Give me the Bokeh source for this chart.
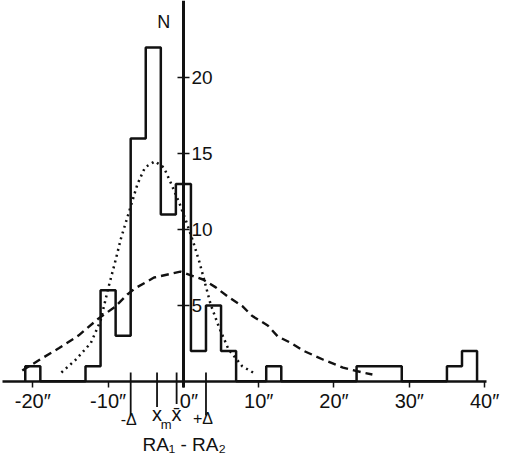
from bokeh.plotting import figure
from bokeh.models import LinearAxis, FixedTicker, Range1d
from bokeh.core.properties import value
from bokeh.embed import file_html
from bokeh.resources import INLINE

# ---------------- data ----------------
# histogram of RA1 - RA2 in 2" bins (left edges)
bin_left = list(range(-21, 39, 2))
counts = [1, 0, 0, 0, 1, 6, 3, 16, 22, 11, 13, 2, 5, 2, 0, 0, 1,
          0, 0, 0, 0, 0, 1, 1, 1, 0, 0, 0, 1, 2]
bin_width = 2

# dotted gaussian
dotted_x = [-16.2, -14.3, -12.3, -11.0, -10.0, -9.1, -8.3, -7.2, -6.1, -5.1, -3.8,
            -2.6, -1.6, -0.5, 0.4, 1.3, 2.1, 2.7, 3.6, 4.7, 6.0, 7.8, 9.7]
dotted_y = [0.58, 1.42, 2.52, 4.0, 6.1, 7.8, 9.4, 11.2, 13.0, 14.1, 14.5,
            14.1, 13.0, 11.7, 10.5, 9.2, 7.9, 6.8, 5.1, 3.6, 2.1, 1.0, 0.45]

# dashed gaussian
dashed_x = [-21.4, -19.1, -16.5, -13.9, -11.3, -9.1, -7.4, -6.4, -3.9, -0.4, 2.6,
            4.3, 6.0, 7.8, 9.1, 11.2, 12.5, 14.3, 16.0, 18.6, 21.2, 23.8, 25.1]
dashed_y = [0.71, 1.42, 2.19, 3.03, 4.13, 4.90, 5.74, 6.13, 6.84, 7.23, 6.71,
            6.19, 5.55, 4.97, 4.32, 3.68, 2.97, 2.52, 2.00, 1.42, 0.90, 0.58, 0.45]

# marker positions below the axis: -Delta, x_m, x-bar, +Delta
mark_x = [-7.0, -3.5, -0.9, 3.0]
mark_bottom = [-2.25, -1.7, -1.5, -2.25]

x_ticks = [-20, -10, 0, 10, 20, 30, 40]
x_tick_labels = ['-20″', '-10″', '\u00a0\u00a00″', '10″', '20″', '30″', '40″']
y_ticks = [5, 10, 15, 20]

INK = "#111111"
FONT = "Liberation Sans"

# ---------------- figure ----------------
p = figure(width=506, height=454,
           x_range=Range1d(-24.29, 42.91), y_range=Range1d(-4.825, 25.10),
           x_axis_location=None, y_axis_location=None,
           toolbar_location=None, output_backend="svg", min_border=0)
p.outline_line_color = None
p.background_fill_color = "white"
p.border_fill_color = "white"
p.grid.visible = False

# axes
xaxis = LinearAxis(fixed_location=0, ticker=FixedTicker(ticks=x_ticks))
xaxis.bounds = (-24.0, 40.25)
xaxis.major_label_overrides = {t: lab for t, lab in zip(x_ticks, x_tick_labels)}
xaxis.major_tick_in = 0
xaxis.major_tick_out = 6
xaxis.minor_tick_line_color = None
xaxis.axis_line_width = 2.5
xaxis.axis_line_color = INK
xaxis.major_tick_line_color = INK
xaxis.major_tick_line_width = 1.5
xaxis.major_label_standoff = 3
xaxis.major_label_text_font = FONT
xaxis.major_label_text_font_size = "20px"
xaxis.major_label_text_color = INK
p.add_layout(xaxis, "below")

yaxis = LinearAxis(fixed_location=0, ticker=FixedTicker(ticks=y_ticks))
yaxis.bounds = (-0.4, 25.1)
yaxis.major_tick_in = 6
yaxis.major_tick_out = 6
yaxis.minor_tick_line_color = None
yaxis.axis_line_width = 3
yaxis.axis_line_color = INK
yaxis.major_tick_line_color = INK
yaxis.major_tick_line_width = 1.5
yaxis.major_label_standoff = 2
yaxis.major_label_text_font = FONT
yaxis.major_label_text_font_size = "19px"
yaxis.major_label_text_color = INK
p.add_layout(yaxis, "right")

# histogram outline (step)
step_x = [bin_left[0]] + bin_left + [bin_left[-1] + bin_width]
step_y = [0] + counts + [0]
p.step(step_x, step_y, mode="after", line_color=INK, line_width=2.5)

# fitted curves
p.line(dotted_x, dotted_y, line_color=INK, line_width=2.5, line_dash="2 4")
p.line(dashed_x, dashed_y, line_color=INK, line_width=2.4, line_dash="8 5")

# markers below axis
p.segment(x0=mark_x, y0=[0.58] * len(mark_x), x1=mark_x, y1=mark_bottom,
          line_color=INK, line_width=1.8)

# labels
p.text(x=[-7.27, 2.6], y=[-2.5, -2.48], text=["-Δ", "+Δ"],
       text_font=value(FONT), text_font_size="16px", text_color=INK,
       text_align="center", text_baseline="middle")
p.text(x=[-3.5, -0.9], y=[-2.17, -2.17], text=["x", "x\u0304"],
       text_font=value(FONT), text_font_size="20px", text_color=INK,
       text_align="center", text_baseline="middle")
p.text(x=[-2.3], y=[-2.85], text=["m"],
       text_font=value(FONT), text_font_size="13px", text_color=INK,
       text_align="center", text_baseline="middle")
p.text(x=[0.1], y=[-4.15], text=["RA₁ - RA₂"],
       text_font=value(FONT), text_font_size="19px", text_color=INK,
       text_align="center", text_baseline="middle")
p.text(x=[-2.6], y=[23.7], text=["N"],
       text_font=value(FONT), text_font_size="18px", text_color=INK,
       text_align="center", text_baseline="middle")

open("out.html", "w").write(file_html(p, INLINE))
